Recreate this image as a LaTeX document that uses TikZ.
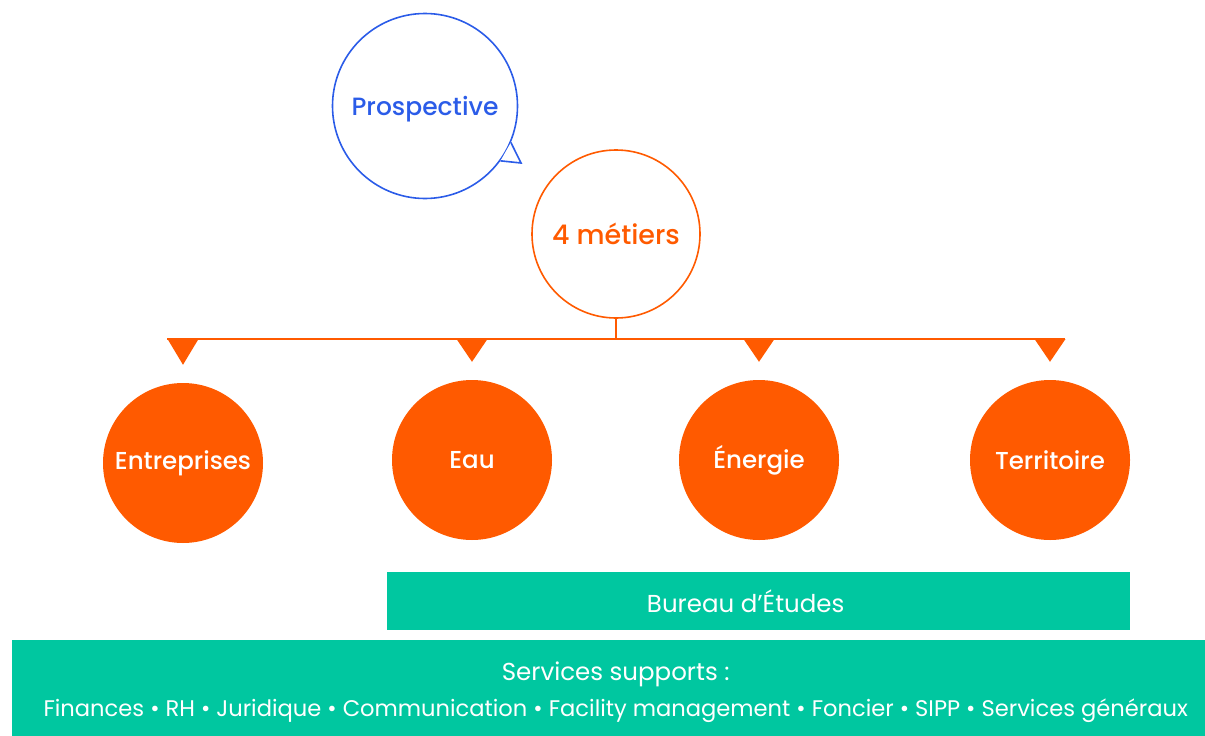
\documentclass[tikz,border=0pt]{standalone}
\usepackage{fontspec}
\setmainfont{Poppins}
\newfontfamily\medfont{Poppins Medium}
\usetikzlibrary{positioning}
\definecolor{orng}{HTML}{FF5A00}
\definecolor{blu}{HTML}{2B5CE8}
\definecolor{grn}{HTML}{00C7A0}

\begin{document}
\begin{tikzpicture}[x=1pt,y=-1pt]

\tikzstyle{metier} = [circle, fill=orng, minimum size=160pt, inner sep=0pt, text=white, font=\medfont\fontsize{24.5}{28}\selectfont]
\tikzstyle{band} = [fill=grn, inner sep=0pt, anchor=north west]
\tikzstyle{bandtext} = [text=white, inner sep=0pt, align=center, font=\fontsize{24.5}{36}\selectfont]
\tikzstyle{branch} = [orng, line width=1.8pt]

\useasboundingbox (0,0) rectangle (1205,736);

% bubble
\node[circle, draw=blu, line width=1.6pt, minimum size=185pt, inner sep=0pt, text=blu, text depth=0pt, font=\medfont\fontsize{25}{29}\selectfont] (prosp) at (425,106) {Prospective};
\filldraw[draw=blu, fill=white, line width=1.6pt] (prosp.-23) -- (521,163) coordinate (tip) -- (prosp.-36);

% hub
\node[circle, draw=orng, line width=1.6pt, minimum size=168pt, inner sep=0pt, text=orng, font=\medfont\fontsize{27}{31}\selectfont] (hub) at (616,234) {4 métiers};

% the four
\node[metier] (ent) at (183,463) {Entreprises};
\node[metier] (eau) at (472,460) {Eau};
\node[metier] (ener) at (759,460) {Énergie};
\node[metier] (terr) at (1050,460) {Territoire};

% branches
\coordinate (bar) at (616,339);
\draw[branch] (hub.south) -- (bar);
\draw[branch] ([xshift=-16pt]ent.north |- bar) -- ([xshift=15pt]terr.north |- bar);
\foreach \n in {ent,eau,ener,terr}
  \fill[orng] ([xshift=-15.5pt]\n.north |- bar) -- ([xshift=15.5pt]\n.north |- bar) -- ([yshift=18pt]\n.north) -- cycle;

% bands
\node[band, minimum width=743pt, minimum height=58pt] (bureau) at (387,572) {};
\node[bandtext] (bureautxt) at ([xshift=-13pt]bureau.center) {Bureau d’Études};
\node[band, minimum width=1193pt, minimum height=96pt] (supports) at (12,640) {};
\node[bandtext] (supportstxt) at ([xshift=7pt,yshift=-4pt]supports.center) {Services supports :\\{\fontsize{22.6}{36}\selectfont Finances • RH • Juridique • Communication • Facility management • Foncier • SIPP • Services généraux}};

\end{tikzpicture}
\end{document}
